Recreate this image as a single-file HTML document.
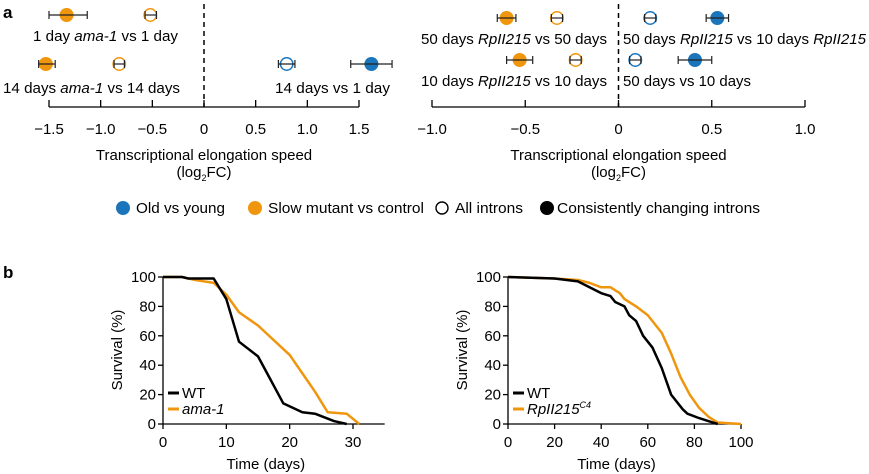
<!DOCTYPE html>
<html><head><meta charset="utf-8"><style>
body{margin:0;background:#fff}
svg{display:block;font-family:"Liberation Sans",sans-serif}
</style></head><body>
<svg id="s" width="869" height="474">
<text x="3" y="18" font-size="17" font-weight="bold">a</text>
<text x="3" y="278" font-size="17" font-weight="bold">b</text>
<g id="gA"></g>
<g id="gB"></g>
<g id="leg"></g>
<g id="gC"></g>
<g id="gD"></g>
</svg>
<script>
const OR='#f0960e', BL='#1b75bb';
const leftVals=[-1.33,-0.52,-1.53,-0.82,0.8,1.62];
const leftLo=[-1.5,-0.57,-1.6,-0.87,0.72,1.42];
const leftHi=[-1.13,-0.46,-1.44,-0.77,0.88,1.82];
const leftRow=[0,0,1,1,1,1];
const leftCol=['o','o','o','o','b','b'];
const leftFill=[1,0,1,0,0,1];
const leftTicks=[-1.5,-1,-0.5,0,0.5,1,1.5];
const leftTickLabels=['\u22121.5','\u22121.0','\u22120.5','0','0.5','1.0','1.5'];
const rightVals=[-0.6,-0.33,0.17,0.53,-0.53,-0.23,0.09,0.41];
const rightLo=[-0.65,-0.36,0.14,0.47,-0.6,-0.26,0.06,0.32];
const rightHi=[-0.55,-0.3,0.2,0.59,-0.46,-0.2,0.12,0.5];
const rightRow=[0,0,0,0,1,1,1,1];
const rightCol=['o','o','b','b','o','o','b','b'];
const rightFill=[1,0,0,1,1,0,0,1];
const rightTicks=[-1,-0.5,0,0.5,1];
const rightTickLabels=['\u22121.0','\u22120.5','0','0.5','1.0'];
const wtL_t=[0,3,4,8,10,12,15,17,19,22,24,27,29];
const wtL_s=[100,100,99,99,85,56,46,30,14,8,7,2,0];
const amaL_t=[0,3,5,8,10,12,15,20,24,26,29,31];
const amaL_s=[100,100,98,96,88,76,67,47,22,8,7,0];
const wtR_t=[0,20,30,35,40,44,46,50,52,55,58,62,66,70,75,77,82,88,90];
const wtR_s=[100,99,97,93,89,87,83,80,74,70,60,52,38,20,10,7,4,1,0];
const rpR_t=[0,20,30,35,40,44,48,50,55,60,66,70,74,78,82,86,90,95,100];
const rpR_s=[100,99,98,96,93,93,89,85,80,74,62,48,32,20,11,5,1,0.5,0];
const yTicks=[0,20,40,60,80,100];
const xTicksL=[0,10,20,30];
const xTicksR=[0,20,40,60,80,100];

const NS='http://www.w3.org/2000/svg';
const FS=15;
function mk(p,t,a,txt){const e=document.createElementNS(NS,t);for(const k in a)e.setAttribute(k,a[k]);if(txt!==undefined)e.textContent=txt;p.appendChild(e);return e;}

function forest(g,x0,x1,v0,v1,rowsY,vals,lo,hi,row,col,fill,ticks,tl,axisY){
  const X=v=>x0+(v-v0)/(v1-v0)*(x1-x0);
  const dl=mk(g,'line',{x1:X(0),x2:X(0),y1:4,y2:axisY,stroke:'#000','stroke-width':1.5,'stroke-dasharray':'5,4'});
  
  
  const ax=mk(g,'line',{x1:X(v0),x2:X(v1),y1:axisY,y2:axisY,stroke:'#000','stroke-width':1.3});
  
  
  ticks.forEach((t,i)=>{
    mk(g,'line',{x1:X(t),x2:X(t),y1:axisY,y2:axisY-7,stroke:'#000','stroke-width':1.3});
    const tx=mk(g,'text',{x:X(t),y:axisY+27,'font-size':FS,'text-anchor':'middle'},tl[i]);
    
    
  });
  const c=(x0+x1)/2;
  const t1=mk(g,'text',{x:c,y:axisY+53,'font-size':FS,'text-anchor':'middle'},'Transcriptional elongation speed');
  
  
  const t2=mk(g,'text',{x:c,y:axisY+70,'font-size':FS,'text-anchor':'middle'});
  t2.innerHTML='(log<tspan font-size="9" dy="4">2</tspan><tspan dy="-4">FC)</tspan>';
  
  
  vals.forEach((v,i)=>{
    const y=rowsY[row[i]], cl=col[i]=='o'?OR:BL;
    const pt=mk(g,'g',{});
    
    
    if(fill[i]) mk(pt,'circle',{cx:X(v),cy:y,r:7,fill:cl});
    else mk(pt,'circle',{cx:X(v),cy:y,r:6.2,fill:'#fff',stroke:cl,'stroke-width':1.5});
    mk(pt,'line',{x1:X(lo[i]),x2:X(hi[i]),y1:y,y2:y,stroke:'#222','stroke-width':1.2});
    mk(pt,'line',{x1:X(lo[i]),x2:X(lo[i]),y1:y-4,y2:y+4,stroke:'#222','stroke-width':1.2});
    mk(pt,'line',{x1:X(hi[i]),x2:X(hi[i]),y1:y-4,y2:y+4,stroke:'#222','stroke-width':1.2});
  });
}
const gA=document.getElementById('gA'),gB=document.getElementById('gB');
forest(gA,49,359,-1.5,1.5,[15,64],leftVals,leftLo,leftHi,leftRow,leftCol,leftFill,leftTicks,leftTickLabels,107);
forest(gB,432,805,-1,1,[18,60],rightVals,rightLo,rightHi,rightRow,rightCol,rightFill,rightTicks,rightTickLabels,107);
function lab(g,x,y,html,w){const t=mk(g,'text',{x:x,y:y,'font-size':FS,textLength:w,lengthAdjust:'spacingAndGlyphs'});t.innerHTML=html;}
lab(gA,33,41,'1 day <tspan font-style="italic">ama-1</tspan> vs 1 day',145);
lab(gA,3,93,'14 days <tspan font-style="italic">ama-1</tspan> vs 14 days',177);
lab(gA,275,93,'14 days vs 1 day',115);
lab(gB,421,44,'50 days <tspan font-style="italic">RpII215</tspan> vs 50 days',186);
lab(gB,623,44,'50 days <tspan font-style="italic">RpII215</tspan> vs 10 days <tspan font-style="italic">RpII215</tspan>',243);
lab(gB,421,86,'10 days <tspan font-style="italic">RpII215</tspan> vs 10 days',186);
lab(gB,623,86,'50 days vs 10 days',128);

const leg=document.getElementById('leg');
[[123,BL,1,'Old vs young',89],[255,OR,1,'Slow mutant vs control',156],[442,'#000',0,'All introns',68],[547,'#000',1,'Consistently changing introns',203]].forEach(d=>{
  const it=mk(leg,'g',{});
  
  
  if(d[2])mk(it,'circle',{cx:d[0],cy:208,r:7,fill:d[1]});
  else mk(it,'circle',{cx:d[0],cy:208,r:6,fill:'#fff',stroke:'#000','stroke-width':1.4});
  mk(it,'text',{x:d[0]+(d[2]&&d[0]>500?10:13),y:213,'font-size':FS,textLength:d[4],lengthAdjust:'spacingAndGlyphs'},d[3]);
});

function surv(g,x0,x1,tmax,axMax,xt,series,legend){
  const X=t=>x0+t/tmax*(x1-x0), Y=s=>424-s/100*147;
  mk(g,'line',{x1:x0,x2:X(axMax),y1:424,y2:424,stroke:'#000','stroke-width':1.3});
  mk(g,'line',{x1:x0,x2:x0,y1:277,y2:424,stroke:'#000','stroke-width':1.3});
  yTicks.forEach(t=>{
    mk(g,'line',{x1:x0-5,x2:x0,y1:Y(t),y2:Y(t),stroke:'#000','stroke-width':1.3});
    const l=mk(g,'text',{x:x0-7,y:Y(t)+5,'font-size':FS,'text-anchor':'end'},String(t));
    
    
  });
  xt.forEach(t=>{
    mk(g,'line',{x1:X(t),x2:X(t),y1:424,y2:429,stroke:'#000','stroke-width':1.3});
    const l=mk(g,'text',{x:X(t),y:447,'font-size':FS,'text-anchor':'middle'},String(t));
    
    
  });
  const xt2=mk(g,'text',{x:(x0+X(axMax))/2-8,y:469,'font-size':FS,'text-anchor':'middle'},'Time (days)');
  
  
  const yl=mk(g,'text',{x:0,y:0,'font-size':FS,'text-anchor':'middle',transform:`translate(${x0-41},350) rotate(-90)`},'Survival (%)');
  
  
  series.forEach(s=>{
    const p=mk(g,'polyline',{points:s.t.map((t,i)=>X(t)+','+Y(s.s[i])).join(' '),fill:'none',stroke:s.c,'stroke-width':2.5,'stroke-linejoin':'round'});
    
    
  });
  legend.forEach((l,i)=>{
    const y=393+i*16;
    const e=mk(g,'g',{});
    
    
    mk(e,'line',{x1:x0+5,x2:x0+16,y1:y,y2:y,stroke:l.c,'stroke-width':3});
    const t=mk(e,'text',{x:x0+19,y:y+5,'font-size':FS});t.innerHTML=l.h;
  });
}
surv(document.getElementById('gC'),163,353,30,35,xTicksL,
 [{t:amaL_t,s:amaL_s,c:OR},{t:wtL_t,s:wtL_s,c:'#000'}],
 [{c:'#000',h:'WT'},{c:OR,h:'<tspan font-style="italic">ama-1</tspan>'}]);
surv(document.getElementById('gD'),508,741,100,100,xTicksR,
 [{t:rpR_t,s:rpR_s,c:OR},{t:wtR_t,s:wtR_s,c:'#000'}],
 [{c:'#000',h:'WT'},{c:OR,h:'<tspan font-style="italic">RpII215</tspan><tspan font-style="italic" font-size="9" dy="-6">C4</tspan>'}]);
</script>
</body></html>
